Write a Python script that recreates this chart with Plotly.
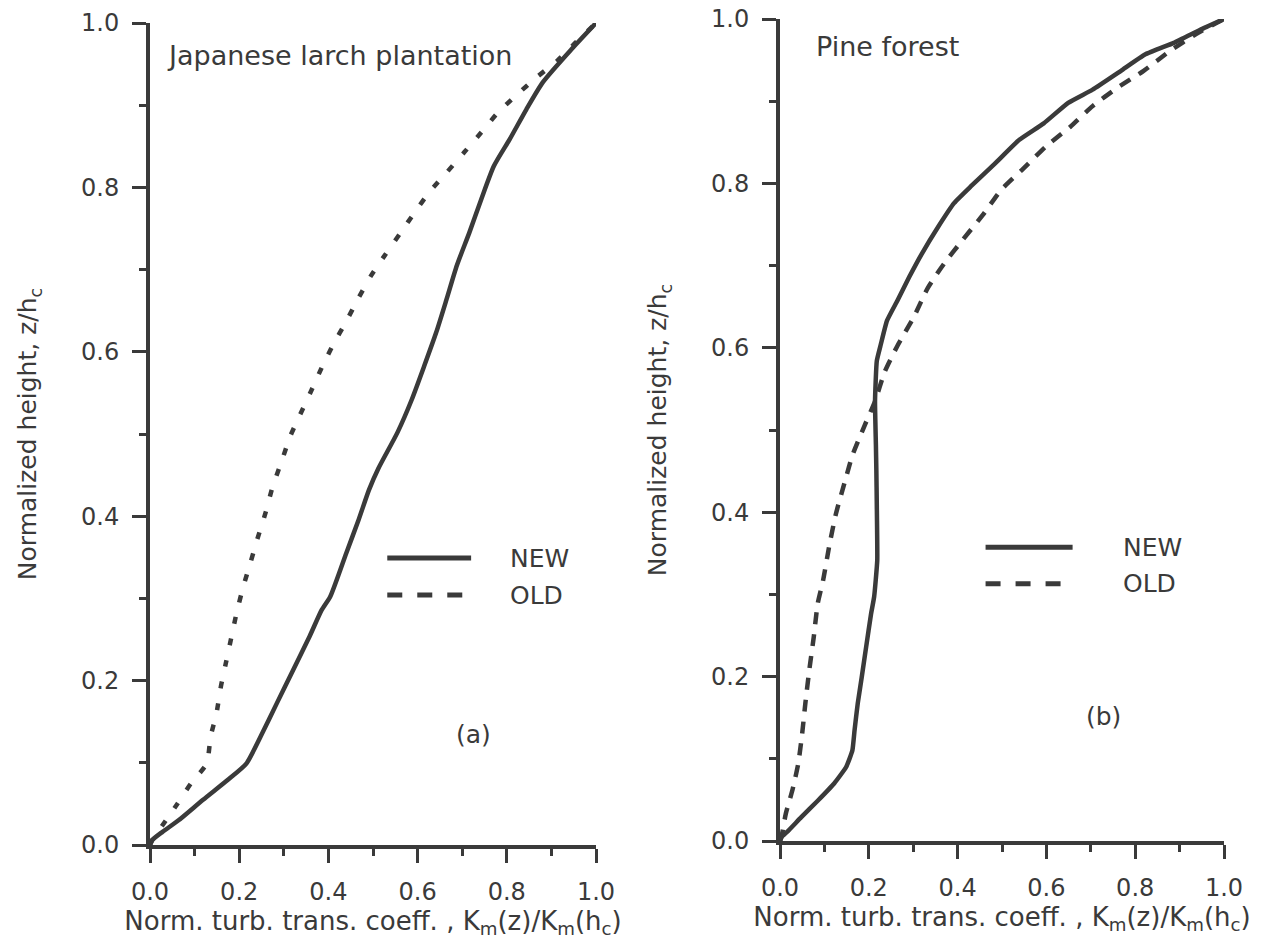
import plotly.graph_objects as go

# ---------------- data ----------------
# Panel (a): Japanese larch plantation
a_new_x = [0.0, 0.005, 0.028, 0.064, 0.119, 0.174, 0.216, 0.248, 0.284, 0.321, 0.358, 0.385,
           0.404, 0.440, 0.468, 0.491, 0.512, 0.555, 0.587, 0.615, 0.642, 0.665, 0.688,
           0.716, 0.743, 0.771, 0.807, 0.844, 0.881, 0.945, 1.0]
a_new_y = [0.0, 0.006, 0.016, 0.030, 0.055, 0.079, 0.099, 0.132, 0.172, 0.213, 0.254, 0.286,
           0.302, 0.355, 0.396, 0.432, 0.458, 0.502, 0.542, 0.583, 0.624, 0.664, 0.705,
           0.745, 0.786, 0.826, 0.859, 0.895, 0.928, 0.968, 1.0]
a_old_x = [0.0, 0.005, 0.028, 0.060, 0.092, 0.127, 0.136, 0.149, 0.159, 0.170, 0.181, 0.194,
           0.209, 0.225, 0.240, 0.259, 0.275, 0.294, 0.315, 0.337, 0.361, 0.387, 0.411,
           0.439, 0.468, 0.495, 0.526, 0.562, 0.594, 0.626, 0.665, 0.705, 0.743, 0.780,
           0.821, 0.867, 0.913, 0.954, 1.0]
a_old_y = [0.0, 0.006, 0.024, 0.049, 0.075, 0.099, 0.132, 0.160, 0.193, 0.221, 0.249, 0.282,
           0.314, 0.343, 0.371, 0.404, 0.436, 0.465, 0.498, 0.524, 0.552, 0.583, 0.609,
           0.636, 0.666, 0.692, 0.717, 0.745, 0.770, 0.794, 0.818, 0.843, 0.867, 0.891,
           0.912, 0.934, 0.954, 0.976, 1.0]

# Panel (b): Pine forest
b_new_x = [0.0, 0.004, 0.016, 0.048, 0.085, 0.122, 0.149, 0.163, 0.168, 0.175, 0.184, 0.194,
           0.205, 0.212, 0.219, 0.218, 0.217, 0.216, 0.214, 0.218, 0.227, 0.241, 0.264,
           0.291, 0.319, 0.356, 0.392, 0.429, 0.484, 0.539, 0.594, 0.649, 0.704, 0.768,
           0.823, 0.887, 0.951, 1.0]
b_new_y = [0.0, 0.005, 0.011, 0.029, 0.049, 0.070, 0.090, 0.110, 0.135, 0.167, 0.199, 0.236,
           0.276, 0.297, 0.341, 0.410, 0.451, 0.482, 0.535, 0.584, 0.604, 0.633, 0.657,
           0.686, 0.714, 0.747, 0.776, 0.796, 0.824, 0.853, 0.873, 0.898, 0.914, 0.937,
           0.957, 0.971, 0.988, 1.0]
b_old_x = [0.0, 0.004, 0.013, 0.028, 0.041, 0.050, 0.057, 0.066, 0.076, 0.085, 0.097, 0.112,
           0.126, 0.147, 0.163, 0.191, 0.214, 0.236, 0.264, 0.301, 0.333, 0.369, 0.411,
           0.456, 0.498, 0.548, 0.599, 0.654, 0.704, 0.759, 0.819, 0.878, 0.938, 1.0]
b_old_y = [0.0, 0.007, 0.033, 0.062, 0.094, 0.131, 0.167, 0.208, 0.248, 0.289, 0.317, 0.362,
           0.398, 0.439, 0.469, 0.506, 0.535, 0.571, 0.602, 0.637, 0.673, 0.702, 0.731,
           0.761, 0.792, 0.818, 0.845, 0.869, 0.894, 0.916, 0.937, 0.961, 0.982, 1.0]

series_names = ["NEW", "OLD"]
panel_titles = ["Japanese larch plantation", "Pine forest"]
panel_tags = ["(a)", "(b)"]
x_title = "Norm. turb. trans. coeff. , K<sub>m</sub>(z)/K<sub>m</sub>(h<sub>c</sub>)"
y_title = "Normalized height, z/h<sub>c</sub>"
tick_vals = [0.0, 0.2, 0.4, 0.6, 0.8, 1.0]

# ---------------- styling ----------------
INK = "#3a3a3a"
FONT = "DejaVu Sans"
W, H = 1271, 945

fig = go.Figure()
fig.add_trace(go.Scatter(x=a_new_x, y=a_new_y, mode="lines", name="NEW",
                         line=dict(color=INK, width=4.5, shape="spline", smoothing=0.6),
                         xaxis="x", yaxis="y", showlegend=False))
fig.add_trace(go.Scatter(x=a_old_x, y=a_old_y, mode="lines", name="OLD",
                         line=dict(color=INK, width=4.5, dash="7px,15px", shape="spline", smoothing=0.6),
                         xaxis="x", yaxis="y", showlegend=False))
fig.add_trace(go.Scatter(x=b_new_x, y=b_new_y, mode="lines", name="NEW",
                         line=dict(color=INK, width=4.5, shape="spline", smoothing=0.4),
                         xaxis="x2", yaxis="y2", showlegend=False))
fig.add_trace(go.Scatter(x=b_old_x, y=b_old_y, mode="lines", name="OLD",
                         line=dict(color=INK, width=4.5, dash="12px,10px", shape="spline", smoothing=0.6),
                         xaxis="x2", yaxis="y2", showlegend=False))


def xaxis_style(domain, anchor):
    return dict(domain=domain, anchor=anchor, range=[0, 1], showgrid=False, zeroline=False,
                automargin=False,
                showline=True, linecolor=INK, linewidth=4,
                ticks="outside", ticklen=14, tickwidth=3, tickcolor=INK,
                tickmode="array", tickvals=tick_vals, tickformat=".1f",
                ticklabelstandoff=8,
                minor=dict(ticks="outside", ticklen=7, tickwidth=3, tickcolor=INK, dtick=0.1, tick0=0,
                           showgrid=False),
                tickfont=dict(family=FONT, size=24, color=INK),
                title=dict(text=x_title, font=dict(family=FONT, size=26, color=INK), standoff=0),
                fixedrange=True)


def yaxis_style(domain, anchor):
    return dict(domain=domain, anchor=anchor, range=[0, 1], showgrid=False, zeroline=False,
                automargin=False,
                showline=True, linecolor=INK, linewidth=4,
                ticks="outside", ticklen=14, tickwidth=3, tickcolor=INK,
                tickmode="array", tickvals=tick_vals, tickformat=".1f",
                ticklabelstandoff=8,
                minor=dict(ticks="outside", ticklen=7, tickwidth=3, tickcolor=INK, dtick=0.1, tick0=0,
                           showgrid=False),
                tickfont=dict(family=FONT, size=24, color=INK),
                title=dict(text=y_title, font=dict(family=FONT, size=25, color=INK), standoff=38),
                fixedrange=True)


fig.update_layout(
    template="none",
    width=W, height=H,
    margin=dict(l=0, r=0, t=0, b=0, pad=0, autoexpand=False),
    paper_bgcolor="white", plot_bgcolor="white",
    font=dict(family=FONT, color=INK),
    xaxis=xaxis_style([150 / W, 596 / W], "y"),
    yaxis=yaxis_style([(H - 845) / H, (H - 23) / H], "x"),
    xaxis2=xaxis_style([780 / W, 1224 / W], "y2"),
    yaxis2=yaxis_style([(H - 841) / H, (H - 19) / H], "x2"),
    showlegend=False,
)

# legend samples + labels, panel titles and tags (in data coordinates of each panel)
legend_pos = [
    dict(xr="x", yr="y", x0=0.532, x1=0.720, y_new=0.349, y_old=0.304, tx=0.803),
    dict(xr="x2", yr="y2", x0=0.463, x1=0.659, y_new=0.3575, y_old=0.313, tx=0.767),
]
for lp in legend_pos:
    fig.add_shape(type="line", xref=lp["xr"], yref=lp["yr"], x0=lp["x0"], x1=lp["x1"],
                  y0=lp["y_new"], y1=lp["y_new"], line=dict(color=INK, width=5))
    fig.add_shape(type="line", xref=lp["xr"], yref=lp["yr"], x0=lp["x0"], x1=lp["x1"],
                  y0=lp["y_old"], y1=lp["y_old"], line=dict(color=INK, width=5, dash="15px,15px"))
    for name, yy in zip(series_names, [lp["y_new"], lp["y_old"]]):
        fig.add_annotation(xref=lp["xr"], yref=lp["yr"], x=lp["tx"], y=yy, text=name,
                           showarrow=False, xanchor="left", yanchor="middle",
                           font=dict(family=FONT, size=25, color=INK))

title_pos = [("x", "y", 0.034, 0.960), ("x2", "y2", 0.077, 0.967)]
for (xr, yr, tx, ty), t in zip(title_pos, panel_titles):
    fig.add_annotation(xref=xr, yref=yr, x=tx, y=ty, text=t, showarrow=False,
                       xanchor="left", yanchor="middle", font=dict(family=FONT, size=27, color=INK))

tag_pos = [("x", "y", 0.725, 0.134), ("x2", "y2", 0.729, 0.152)]
for (xr, yr, tx, ty), t in zip(tag_pos, panel_tags):
    fig.add_annotation(xref=xr, yref=yr, x=tx, y=ty, text=t, showarrow=False,
                       xanchor="center", yanchor="middle", font=dict(family=FONT, size=25, color=INK))

fig.write_html("out.html", config={"displayModeBar": False})
